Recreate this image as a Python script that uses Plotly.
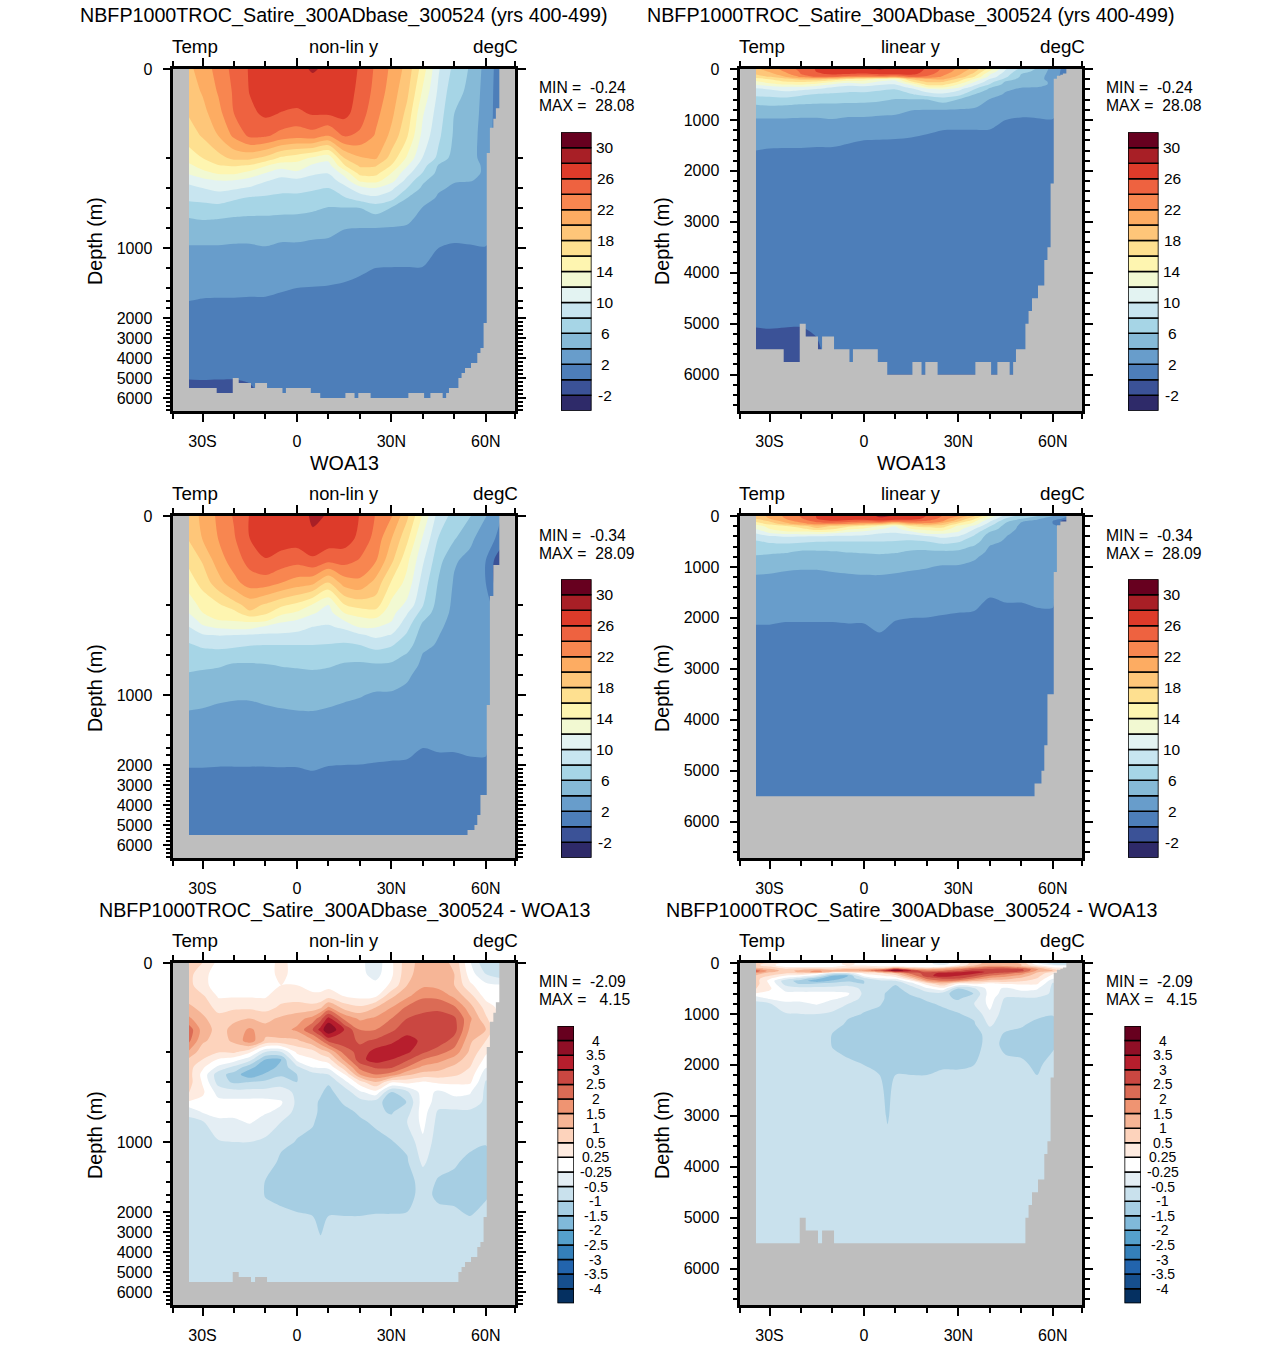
import numpy as np
import plotly.graph_objects as go

W, H = 1285, 1345

# ---------- data ----------
LAT = [-34.3,-30,-25,-20,-15,-10,-5,0,5,10,15,20,25,30,35,40,45,50,55,60,64.5]
LAT_DIFF = [-34.3,-30,-25,-20,-15,-10,-5,0,5,7.5,10,15,20,25,30,35,40,45,50,55,60,64.5]
DEPTH = [0,50,100,150,200,250,300,350,400,500,600,700,800,1000,1200,1400,1600,2000,4000,5000,5200,6000]
DEPTH_DIFF = [0,25,50,75,100,125,150,175,200,250,300,350,400,500,600,700,800,1000,1200,1400,1600,2000,3000,4000,5000,6000]

# one list per latitude, surface to bottom
MODEL_T = [
 [19.6,19,18.2,17,15,13.6,12.3,10.6,9.45,8.4,7.2,6,5.2,3.8,3.1,2.4,2,1.8,.5,.06,-.1,-.4],
 [20.8,20.2,19.3,18.2,16,14.8,13.4,11.4,10,8.6,7.3,6.2,5.2,3.8,3.1,2.4,1.9,1.6,.5,.1,-.1,-.4],
 [22.8,22.2,21.3,20,17.3,15.9,14.3,12,10.6,8.9,7.4,6.1,5.2,3.8,3,2.3,1.9,1.6,.5,.06,-.1,-.4],
 [24.6,24.3,24,22.4,18.5,16.2,14.4,11.9,10.3,8.3,7,5.9,5.1,3.7,3,2.3,1.9,1.6,.6,.05,-.1,-.4],
 [26.2,26.1,25.5,24.4,18.5,15.8,13.4,11.2,9.8,7.8,6.8,5.8,5.1,3.7,2.9,2.2,1.9,1.6,.6,.1,.03,-.3],
 [27.2,27,26.4,24.3,17.5,14.2,12,10.2,9,7.7,6.7,5.8,5.1,3.9,3,2.2,1.9,1.6,.7,.3,.25,.1],
 [27.4,27.2,25.9,23.3,15.6,13,10.7,9.5,8.6,7.5,6.6,5.7,5,3.6,2.9,2.1,1.8,1.6,.7,.3,.2,.1],
 [27.6,27.2,25.6,22.8,14.8,13.2,11.6,9.5,8.6,7.5,6.5,5.7,5,3.6,2.9,2,1.8,1.5,.7,.3,.2,.1],
 [28.15,27.3,26.2,23.2,13.7,11.7,10.3,9.3,8.3,7.2,6.3,5.5,4.7,3.5,2.8,1.95,1.8,1.5,.7,.3,.2,.1],
 [27.7,27.3,26.3,22,12.7,11.2,10.1,9,8,6.9,5.9,5.2,4.5,3.5,2.7,1.9,1.7,1.5,.7,.35,.3,.1],
 [27.7,27.2,26.6,24.2,18,15.8,12.7,10.9,9.4,7.8,5.9,5,4.05,3.4,2.5,1.8,1.7,1.5,.7,.35,.3,.1],
 [25.7,25.4,25,23.6,19.8,18.3,16.7,14.4,11.3,8.9,6,5,4,3.3,2.2,1.7,1.6,1.4,.7,.35,.3,.1],
 [23.7,23.4,22.6,21.8,20.3,18.2,16.7,14.7,12,9.5,7,5.4,4,3.2,2,1.7,1.6,1.4,.7,.35,.3,.1],
 [21.6,21.1,20.5,19.5,17.2,15.9,14,12.8,10.5,8.7,5.9,4.9,3.9,3.1,1.95,1.7,1.6,1.4,.7,.35,.3,.1],
 [19.3,18.5,17.4,16.2,13.7,12.2,10.7,9.3,8,6,5.2,4.4,3.8,3,1.95,1.7,1.6,1.4,.7,.35,.3,.1],
 [15,13.7,12.2,11.3,9.9,8.8,7.9,6.4,5.6,4.7,3.9,3.5,3.2,2.7,1.95,1.7,1.6,1.4,.7,.35,.3,.1],
 [10.2,9.6,9,8.4,7.5,5.8,5.4,4.8,4.2,3.8,3.5,3.3,3,2,1.9,1.7,1.6,1.4,.7,.35,.3,.1],
 [7.4,6.6,6,5.7,5.1,4.8,4.4,4.1,3.8,3.6,3.3,3.1,2.6,1.8,1.75,1.7,1.6,1.4,.7,.35,.3,.1],
 [5.8,5.6,5.3,5,4.7,4.4,4.2,4.05,3.7,3.5,3.2,3,2.7,1.85,1.75,1.7,1.6,1.4,.7,.35,.3,.1],
 [3.3,3.1,3,2.9,3.2,3.8,3.9,3.8,3.4,3.2,3,2.8,2.5,1.95,1.75,1.7,1.6,1.4,.7,.35,.3,.1],
 [1,1,1,1,1.2,1.3,1.4,1.5,1.5,1.5,1.5,1.5,1.5,1.5,1.5,1.5,1.5,1.4,.7,.35,.3,.1],
]
WOA_T = [
 [19,18.2,16.6,15,12.9,12.1,10.9,9.9,8.8,7.8,7.1,6.5,5.8,4.7,3.8,3.1,2.7,2.05,1.3,1.1,1.1,1],
 [20.4,20.1,18.2,16.7,14.7,14,12.8,11.6,9.8,8.3,7.3,6.3,5.7,4.6,3.7,3.1,2.7,2.05,1.3,1.1,1.1,1],
 [22.4,22.05,21,19.2,15.7,15,14,12.2,10.1,8.5,7.3,6.2,5.5,4.3,3.6,3,2.6,2.03,1.3,1.1,1.1,1],
 [24.2,23.8,23,21.3,17.2,15.4,14.2,12.6,10,8.4,6.9,5.8,5.3,4.2,3.5,2.9,2.5,2.03,1.3,1.1,1.1,1],
 [26.1,26,24.7,23,18.8,17.7,14.5,12.6,9.8,8.1,6.8,5.8,5.2,4.2,3.5,2.9,2.5,2.03,1.3,1.1,1.1,1],
 [27.1,26.8,25.9,23,17.7,16.5,14.5,11.4,9.7,8,6.9,5.9,5.3,4.4,3.6,2.9,2.5,2.03,1.3,1.1,1.1,1],
 [27.4,27,25.2,22,16.4,14.7,12.5,11,9.7,8,7,6.1,5.5,4.6,3.7,3,2.6,2.04,1.3,1.1,1.1,1],
 [27.2,27,24.7,21.1,15.5,13.8,12,10.7,9.5,8,7,6.2,5.6,4.7,3.8,3.1,2.7,2.04,1.3,1.1,1.1,1],
 [28.25,27.75,25.6,20.5,13.8,12.3,11.1,9.9,9.1,8,7.1,6.3,5.7,4.8,3.8,3.2,2.8,2.1,1.4,1.1,1.1,1],
 [27.9,27.3,24.5,17.8,12,11.2,10.5,9.7,8.9,7.9,7,6.2,5.5,4.5,3.7,3.1,2.6,2.02,1.3,1.1,1.1,1],
 [27.6,27,24.8,20.9,15.9,14.1,12.1,10.3,9,7.7,6.7,5.8,5.2,4.3,3.5,2.9,2.5,2,1.3,1.1,1.1,1],
 [25.9,25.5,23.8,21.5,16.8,15,13.3,12,9.7,8,6.7,5.7,5.1,4.1,3.4,2.8,2.4,1.99,1.3,1.1,1.1,1],
 [23.9,23.3,22.2,19.3,17,15.2,13.6,12,10.5,8.8,7.1,5.8,5,3.8,3.3,2.7,2.3,1.95,1.3,1.1,1.1,1],
 [22.2,20.1,18.5,15.8,13.4,12.8,12.2,11.2,9.9,8.2,6.8,5.7,4.9,3.8,3.2,2.7,2.3,1.9,1.3,1.1,1.1,1],
 [18.4,16.5,14.5,13.3,11.5,10.2,9.3,8.5,7.7,6.9,5.8,5,4.3,3.5,3,2.6,2.2,1.9,1.3,1.1,1.1,1],
 [13.7,11.8,10.3,9.1,8.1,7.2,6.2,5.4,5,4.5,3.9,3.6,3.3,2.9,2.6,2.3,2,1.85,1.3,1.1,1.1,1],
 [9.1,7.9,6.7,5.8,5.2,5,4.6,4.3,4.05,3.8,3.6,3.4,3.2,2.8,2.5,2.2,2.05,1.85,1.3,1.1,1.1,1],
 [7.3,6.2,4.2,3.8,3.6,3.5,3.4,3.3,3.2,3.1,3,2.9,2.8,2.6,2.4,2.2,2.05,1.85,1.3,1.1,1.1,1],
 [6.1,4.4,3.5,3.3,3.2,3.1,3.1,3,3,3,2.9,2.9,2.8,2.7,2.5,2.3,2.1,1.9,1.3,1.1,1.1,1],
 [4.1,3,2,2,2.6,2.8,2.9,2.9,2.8,2.8,2.7,2.7,2.6,2.4,2.3,2.15,2.05,1.95,1.3,1.1,1.1,1],
 [2.2,1.5,-1.5,-1.5,1,1.5,1.5,1.5,1.5,1.5,1.5,1.5,1.5,1.5,1.5,1.5,1.5,1.5,1.3,1.1,1.1,1],
]
DIFF_T = [
 [.7,.7,.7,.8,1.1,1.6,2.3,2.1,1.4,.9,.7,.7,.7,.55,.2,-.45,-.6,-.9,-.8,-.8,-.8,-.8,-.75,-.7,-.7,-.7],
 [.5,.3,.3,.6,.85,1.1,1.3,1.1,.7,.5,.3,.1,.2,.3,.1,-.2,-.55,-.65,-.75,-.75,-.75,-.8,-.75,-.7,-.7,-.7],
 [.1,.1,.1,.2,.4,.7,.8,.75,.55,.2,-.3,-.8,-.7,-.35,-.1,-.1,-.3,-.55,-.7,-.75,-.75,-.8,-.75,-.7,-.7,-.7],
 [.1,.1,.1,.2,.45,.9,1.15,1.1,.6,0,-.6,-1.2,-1.1,-.4,-.1,-.1,-.3,-.5,-.65,-.75,-.75,-.8,-.75,-.7,-.7,-.7],
 [.2,.15,.1,.2,.45,1,1.6,1.8,.3,-.4,-1.3,-1.9,-1,-.4,-.1,-.1,-.2,-.5,-.65,-.75,-.75,-.8,-.75,-.7,-.7,-.7],
 [.1,.1,.1,.2,.4,.85,1.2,.9,-.5,-1.5,-1.9,-1.4,-.9,-.4,-.1,-.2,-.35,-.6,-.75,-1.02,-1.02,-.9,-.75,-.7,-.7,-.7],
 [.3,.3,.25,.4,.6,1.1,1.3,.9,-.5,-1.5,-1.3,-1.1,-.7,-.4,-.2,-.3,-.5,-.9,-1.1,-1.2,-1.1,-.95,-.75,-.7,-.7,-.7],
 [.1,.1,.25,.4,.7,1.3,1.6,.9,.3,-.1,-.6,-1,-1,-.6,-.6,-.7,-.9,-1.02,-1.2,-1.3,-1.3,-1,-.75,-.7,-.7,-.7],
 [.1,.1,.1,.3,.7,1.7,2.5,1.4,.4,.2,-.2,-.7,-.8,-.7,-.9,-.85,-.95,-1.15,-1.4,-1.4,-1.3,-1.05,-.8,-.7,-.7,-.7],
 [.1,.1,.1,.3,.9,2.3,3.2,1.9,.7,.3,-.15,-.6,-.85,-.95,-1.05,-1.1,-1.15,-1.3,-1.4,-1.4,-1.35,-1.25,-1.05,-.75,-.7,-.7],
 [.1,.1,.1,.4,1.6,3.2,4.2,2.6,1,.4,-.1,-.5,-.95,-1.1,-1.2,-1.3,-1.3,-1.35,-1.4,-1.4,-1.35,-1.05,-.8,-.7,-.7,-.7],
 [.1,.1,.1,.25,.8,1.9,3,2.8,2.2,1.6,.8,.2,-.35,-.8,-.95,-1.1,-1.2,-1.3,-1.4,-1.4,-1.3,-1.05,-.8,-.7,-.7,-.7],
 [-.1,-.1,0,.1,.6,1.4,2,2.4,2.7,2.8,2.2,1.5,.4,-.3,-.7,-.95,-1.05,-1.3,-1.4,-1.4,-1.3,-1.05,-.8,-.7,-.7,-.7],
 [-.4,-.35,-.1,.2,1,1.6,2,2.6,3.2,3.3,2.6,2,1,.1,-.7,-.9,-.95,-1.1,-1.2,-1.3,-1.2,-1.02,-.8,-.7,-.7,-.7],
 [.15,.15,.3,.9,1.5,2,2.4,2.9,3.3,3,2.6,1.8,.3,-1.05,-1.4,-1.05,-.85,-1.02,-1.1,-1.25,-1.25,-1.02,-.8,-.7,-.7,-.7],
 [.8,.85,1,1.4,2.1,2.5,2.8,3.2,3.1,2.6,2,1.1,.35,-.6,-.98,-.7,-.5,-.9,-1.05,-1.2,-1.15,-1,-.8,-.7,-.7,-.7],
 [1.2,1.25,1.4,1.9,2.4,2.6,2.9,2.9,2.6,2,1.4,.8,.2,0,0,0,-.1,-.3,-.45,-.8,-.85,-.85,-.8,-.7,-.7,-.7],
 [1.2,1.25,1.3,1.9,2.3,2.9,2.95,2.8,2.2,1.7,1.2,.8,.3,-.3,-.35,-.6,-.7,-.8,-.85,-1.05,-1.1,-.9,-.75,-.7,-.7,-.7],
 [.9,1,1,1.4,2.1,2.6,2.7,2.3,1.8,1.3,.9,.6,.3,-.1,-.35,-.6,-.7,-.8,-.95,-1.1,-1.1,-.95,-.75,-.7,-.7,-.7],
 [-.2,0,.3,.7,1.2,1.6,1.4,1.1,.9,.7,.5,.4,.3,-.2,-.35,-.6,-.7,-.9,-1.1,-1.2,-1.15,-1.05,-.8,-.7,-.7,-.7],
 [-.9,-.5,-.1,.05,.4,.6,1,.5,.3,.1,-.2,-.4,-.55,-.6,-.6,-.7,-.8,-.98,-1.1,-1.15,-1.05,-.9,-.8,-.7,-.7,-.7],
 [-1,-.8,-.2,0,.1,.1,.1,.1,0,0,-.2,-.4,-.55,-.6,-.6,-.7,-.8,-.9,-.9,-.9,-.9,-.8,-.75,-.7,-.7,-.7],
]

# sea floor: latitude edges and the bottom depth between them
MODEL_EDGE = [-40,-34.3,-25.5,-20.4,-18.5,-14.6,-13.3,-9.5,-4.6,-3.5,4.4,7.4,15.4,18.3,19.5,23.4,35.4,40.4,42.4,46.3,47.4,48.3,51.3,52.3,53.4,55.3,57.3,58.3,59.3,60.3,61.3,62.4,63.2,64.3,70]
MODEL_BOTTOM = [0,5500,5750,5000,5250,5500,5250,5500,5750,5500,5750,6000,5750,6000,5750,6000,5750,6000,5750,6000,5750,5500,5000,4750,4500,4250,3750,3500,2250,189,132,112,88,0]
WOA_EDGE = [-40,-34.3,54.2,56.4,57.3,58.3,60.3,61.3,62.4,64.3,70]
WOA_BOTTOM = [0,5500,5250,5000,4500,3500,1100,180,110,0]
DIFF_EDGE = [-40,-34.3,-20.4,-18.5,-14.6,-13.3,-9.5,51.3,52.3,53.4,55.3,57.3,58.3,59.3,60.3,61.3,62.4,63.2,64.3,70]
DIFF_BOTTOM = [0,5500,5000,5250,5500,5250,5500,5000,4750,4500,4250,3750,3500,2250,189,132,112,88,0]

# colour levels
T_LEVELS = list(range(-2, 32, 2))
T_COLORS = ["#2E2A69","#3B5297","#4D7EB9","#689DCB","#86BAD7","#A6D5E6","#C8E5F0","#E3F3F2","#F2F9D2",
            "#FEF5B0","#FEE090","#FEC679","#FDAC62","#F88650","#EE6240","#DD3B2A","#A81F26","#67001F"]
T_LABELS = ["-2","","2","","6","","10","","14","","18","","22","","26","","30"]
D_LEVELS = [-4,-3.5,-3,-2.5,-2,-1.5,-1,-.5,-.25,.25,.5,1,1.5,2,2.5,3,3.5,4]
D_COLORS = ["#053061","#164F8E","#2264AD","#3480BA","#55A0CB","#80B9DA","#A6CEE3","#C9E1ED","#E4EEF4","#FFFFFF",
            "#FEEBE0","#FDD3BC","#F6B596","#EF9472","#DB6B55","#CA4741","#B71E2D","#8F0F26","#67001F"]
D_LABELS = ["-4","-3.5","-3","-2.5","-2","-1.5","-1","-0.5","-0.25","0.25","0.5","1","1.5","2","2.5","3","3.5","4"]

# non-linear depth axis: depth and the distance (px) below the top of the panel
NL_DEPTH = [0,200,400,600,800,1000,1200,1400,1600,1800,2000,3000,4000,5000,6000,6750]
NL_POS = [0,89,119,139,159,179,199,219,232,239,249,269,289,309,329,344]

X_RANGE = [-39.3, 69.2]
X_MAJOR = [-30,0,30,60]
X_LABELS = ["30S","0","30N","60N"]
X_MINOR = [-39.3,-20,-10,10,20,40,50,69.2]
Y_MAJOR = [0,1000,2000,3000,4000,5000,6000]
Y_MINOR = [d for d in range(200,6700,200) if d % 1000]
Y_MAX = 6750
Y_LIN_BOTTOM = 6714
Y_NL_BOTTOM = 342

TITLE_RUN = "NBFP1000TROC_Satire_300ADbase_300524 (yrs 400-499)"
TITLE_DIFF = "NBFP1000TROC_Satire_300ADbase_300524 - WOA13"

# ---------- layout helpers ----------
FONT = "Liberation Sans"
PANEL_W, PANEL_H = 344, 344
COL_X = [172, 739]
ROW_Y = [68, 515, 962]
GREY = "#BEBEBE"

def dom_x(a, b): return [a / W, b / W]
def dom_y(a, b): return [1 - b / H, 1 - a / H]
def nl(d): return np.interp(d, NL_DEPTH, NL_POS)

def stepped(colors):
    n = len(colors); out = []
    for i, c in enumerate(colors):
        out += [[i / n, c], [(i + 1) / n, c]]
    return out

fig = go.Figure()
ann = []
def text(x, y, s, size, anchor="center", angle=0):
    ann.append(dict(x=x / W, y=1 - y / H, xref="paper", yref="paper", text=s, showarrow=False,
                    font=dict(family=FONT, size=size, color="black"), xanchor=anchor, yanchor="middle",
                    textangle=angle, borderpad=0, borderwidth=0))

def axis_common():
    return dict(showgrid=False, zeroline=False, showline=True, linecolor="black", linewidth=2.5,
                mirror="ticks", ticks="outside", tickcolor="black", tickwidth=2,
                tickfont=dict(family=FONT, size=16, color="black"))

panels = [
 (0, 0, False, LAT, DEPTH, MODEL_T, MODEL_EDGE, MODEL_BOTTOM, "t", "-0.24", "28.08", TITLE_RUN),
 (0, 1, True,  LAT, DEPTH, MODEL_T, MODEL_EDGE, MODEL_BOTTOM, "t", "-0.24", "28.08", TITLE_RUN),
 (1, 0, False, LAT, DEPTH, WOA_T, WOA_EDGE, WOA_BOTTOM, "t", "-0.34", "28.09", "WOA13"),
 (1, 1, True,  LAT, DEPTH, WOA_T, WOA_EDGE, WOA_BOTTOM, "t", "-0.34", "28.09", "WOA13"),
 (2, 0, False, LAT_DIFF, DEPTH_DIFF, DIFF_T, DIFF_EDGE, DIFF_BOTTOM, "d", "-2.09", " 4.15", TITLE_DIFF),
 (2, 1, True,  LAT_DIFF, DEPTH_DIFF, DIFF_T, DIFF_EDGE, DIFF_BOTTOM, "d", "-2.09", " 4.15", TITLE_DIFF),
]

layout_axes = {}
for k, (r, c, linear, lats, deps, table, edge, bottom, kind, vmin, vmax, title) in enumerate(panels):
    n = k + 1
    x0, y0 = COL_X[c], ROW_Y[r]
    z = np.array(table, dtype=float).T
    if kind == "d":
        z = np.interp(z, D_LEVELS, np.arange(len(D_LEVELS)))
        start, end, size, cols = 0, len(D_LEVELS) - 1, 1, D_COLORS
    else:
        start, end, size, cols = T_LEVELS[0], T_LEVELS[-1], 2, T_COLORS
    yf = (lambda d: np.asarray(d, dtype=float)) if linear else nl
    fig.add_trace(go.Contour(x=lats, y=yf(deps), z=z, xaxis=f"x{n}", yaxis=f"y{n}",
                             zmin=start - size, zmax=end + size, autocontour=False,
                             contours=dict(start=start, end=end, size=size, coloring="fill", showlines=False),
                             colorscale=stepped(cols), line=dict(width=0, smoothing=0.85),
                             showscale=False, hoverinfo="skip"))
    # land
    px, py = [edge[0]], [Y_MAX]
    for i, b in enumerate(bottom):
        px += [edge[i], edge[i + 1]]; py += [b, b]
    px.append(edge[-1]); py.append(Y_MAX)
    fig.add_trace(go.Scatter(x=px, y=yf(py), xaxis=f"x{n}", yaxis=f"y{n}", mode="lines",
                             line=dict(width=0), fill="toself", fillcolor=GREY, hoverinfo="skip", showlegend=False))
    xa = axis_common()
    xa.update(domain=dom_x(x0 + 1.25, x0 + PANEL_W - 1.25), range=X_RANGE, anchor=f"y{n}", tickmode="array",
              tickvals=X_MAJOR, ticktext=X_LABELS, ticklen=8, ticklabelstandoff=6,
              minor=dict(tickmode="array", tickvals=X_MINOR, ticks="outside", ticklen=5, tickwidth=1.5, tickcolor="black"))
    ya = axis_common()
    ya.update(domain=dom_y(y0 + 1, y0 + PANEL_H - 1), range=[Y_LIN_BOTTOM if linear else Y_NL_BOTTOM, 0],
              anchor=f"x{n}", tickmode="array",
              tickvals=list(yf(Y_MAJOR)), ticktext=[str(v) for v in Y_MAJOR], ticklen=8, ticklabelstandoff=7,
              minor=dict(tickmode="array", tickvals=list(yf(Y_MINOR)), ticks="outside", ticklen=5, tickwidth=1.5, tickcolor="black"))
    layout_axes[f"xaxis{n}"] = xa
    layout_axes[f"yaxis{n}"] = ya

    # texts
    cx = x0 + PANEL_W / 2
    text(cx, y0 - 52, title, 19.7)
    text(x0, y0 - 21.5, "Temp", 18.8, "left")
    text(cx, y0 - 21.5, "linear y" if linear else "non-lin y", 18.3)
    text(x0 + PANEL_W + 2, y0 - 21.5, "degC", 18.8, "right")
    text(x0 - 77, y0 + 173, "Depth (m)", 19.8, "center", -90)
    text(x0 + 367, y0 + 20, f"MIN =  {vmin}", 15.7, "left")
    text(x0 + 367, y0 + 38, f"MAX =  {vmax}", 15.7, "left")

    # colour key
    m = n + 6
    labels = D_LABELS if kind == "d" else T_LABELS
    nb = len(cols)
    if kind == "d":
        bx0, bx1, by0, by1, lx, fs = x0 + 385.5, x0 + 402, y0 + 64, y0 + 341.3, x0 + 423.5, 14
    else:
        bx0, bx1, by0, by1, lx, fs = x0 + 389, x0 + 419.5, y0 + 64.3, y0 + 342.7, x0 + 433, 15.5
    fig.add_trace(go.Bar(x=[0] * nb, y=[1] * nb, base=list(range(nb)), width=1, xaxis=f"x{m}", yaxis=f"y{m}",
                         marker=dict(color=cols, line=dict(color="black", width=1.5)), hoverinfo="skip", showlegend=False))
    layout_axes[f"xaxis{m}"] = dict(domain=dom_x(bx0, bx1), range=[-.5, .5], anchor=f"y{m}", visible=False)
    layout_axes[f"yaxis{m}"] = dict(domain=dom_y(by0, by1), range=[0, nb], anchor=f"x{m}", visible=False)
    for i, lab in enumerate(labels):
        if lab:
            yp = by1 - (by1 - by0) * (i + 1) / nb
            text(lx, yp, lab, fs)

fig.update_layout(width=W, height=H, autosize=False, margin=dict(l=0, r=0, t=0, b=0, autoexpand=False),
                  paper_bgcolor="white", plot_bgcolor=GREY, showlegend=False, barmode="overlay",
                  annotations=ann, font=dict(family=FONT, color="black"), **layout_axes)
fig.write_html("out.html", config=dict(displayModeBar=False), post_script="document.body.style.margin='0';")
